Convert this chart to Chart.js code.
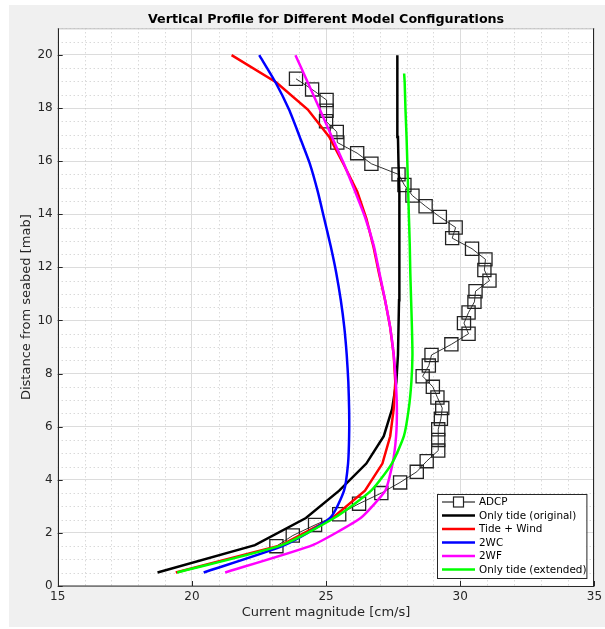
<!DOCTYPE html>
<html>
<head>
<meta charset="utf-8">
<script src="https://cdn.jsdelivr.net/npm/chart.js@4.4.0/dist/chart.umd.min.js"></script>
<style>
html,body{margin:0;padding:0;background:#fff;}
#wrap{width:605px;height:629px;}
</style>
</head>
<body>
<div id="wrap"><canvas id="c" width="605" height="629"></canvas></div>
<script>
// ---- data ----
const titleText = "Vertical Profile for Different Model Configurations";
const xLabel = "Current magnitude [cm/s]";
const yLabel = "Distance from seabed [mab]";

const adcpHeights = [1.5,1.9,2.3,2.7,3.1,3.5,3.9,4.3,4.7,5.1,5.5,5.9,6.3,6.7,7.1,7.5,7.9,8.3,8.7,9.1,9.5,9.9,10.3,10.7,11.1,11.5,11.9,12.3,12.7,13.1,13.5,13.9,14.3,14.7,15.1,15.5,15.9,16.3,16.7,17.1,17.5,17.9,18.3,18.7,19.1];
const adcpSpeed = [23.15,23.76,24.59,25.49,26.23,27.06,27.76,28.38,28.75,29.18,29.18,29.18,29.28,29.33,29.15,28.98,28.60,28.83,28.93,29.67,30.31,30.14,30.31,30.53,30.57,31.09,30.90,30.94,30.44,29.70,29.83,29.24,28.71,28.22,27.92,27.70,26.69,26.16,25.42,25.40,25.00,25.02,25.02,24.48,23.88];

const modelHeights = [0.51,1.54,2.56,3.59,4.61,5.64,6.66,7.69,8.71,9.74,10.76,11.79,12.81,13.84,14.86,15.89,16.91,17.94,18.96,19.99];
const extendedHeights = [0.51,1.54,2.56,3.59,4.61,5.64,6.66,7.69,8.71,9.74,10.76,11.79,12.81,13.84,14.86,15.89,16.91,17.94,18.96,19.30];

const onlyTideOriginal = [18.72,22.35,24.25,25.49,26.50,27.15,27.46,27.62,27.68,27.70,27.72,27.74,27.74,27.73,27.72,27.70,27.68,27.66,27.65,27.66];
const tideWind = [19.40,23.33,25.24,26.45,27.10,27.39,27.52,27.58,27.52,27.39,27.20,26.97,26.76,26.50,26.16,25.65,25.12,24.32,23.15,21.48];
const twoWC = [20.44,23.45,25.15,25.67,25.82,25.86,25.86,25.83,25.77,25.68,25.55,25.38,25.17,24.93,24.69,24.40,24.02,23.62,23.12,22.51];
const twoWF = [21.24,24.50,26.29,27.21,27.48,27.61,27.64,27.60,27.52,27.39,27.20,26.99,26.78,26.47,26.08,25.67,25.22,24.77,24.32,23.86];
const onlyTideExtended = [19.45,23.35,25.30,26.68,27.45,27.90,28.08,28.18,28.22,28.20,28.17,28.14,28.12,28.09,28.06,28.03,28.00,27.96,27.93,27.91];

const xTicksMajor = [15,20,25,30,35];
const yTicksMajor = [0,2,4,6,8,10,12,14,16,18,20];

const seriesNames = ["ADCP","Only tide (original)","Tide + Wind","2WC","2WF","Only tide (extended)"];
const seriesColors = ["#000000","#000000","#ff0000","#0000ff","#ff00ff","#00ff00"];

// ---- build ----
function pts(xs, ys){ return xs.map((v,i)=>({x:v, y:ys[i]})); }

const FONT = "'DejaVu Sans', sans-serif";
const TXT = "#262626";
const LW = 2.5;

const datasets = [
  {label:seriesNames[0], data:pts(adcpSpeed, adcpHeights), showLine:true, borderColor:"#000", borderWidth:0.8,
   pointStyle:'rect', pointRadius:9.3, pointBorderWidth:1.3, pointBorderColor:"#222", pointBackgroundColor:"rgba(0,0,0,0)", order:6},
  {label:seriesNames[1], data:pts(onlyTideOriginal, modelHeights), showLine:true, borderColor:seriesColors[1], borderWidth:LW, pointRadius:0, order:5},
  {label:seriesNames[2], data:pts(tideWind, modelHeights), showLine:true, borderColor:seriesColors[2], borderWidth:LW, pointRadius:0, order:4},
  {label:seriesNames[3], data:pts(twoWC, modelHeights), showLine:true, borderColor:seriesColors[3], borderWidth:LW, pointRadius:0, order:3, tension:0.2},
  {label:seriesNames[4], data:pts(twoWF, modelHeights), showLine:true, borderColor:seriesColors[4], borderWidth:LW, pointRadius:0, order:2, tension:0.15},
  {label:seriesNames[5], data:pts(onlyTideExtended, extendedHeights), showLine:true, borderColor:seriesColors[5], borderWidth:LW, pointRadius:0, order:1, tension:0.2}
];

const bgPlugin = {
  id:'bg',
  beforeDraw(chart){
    const {ctx, chartArea:a} = chart;
    ctx.save();
    ctx.fillStyle = "#fff";
    ctx.fillRect(0,0,chart.width,chart.height);
    ctx.fillStyle = "#f0f0f0";
    ctx.fillRect(9,5,chart.width-9,chart.height-7);
    ctx.fillStyle = "#fff";
    ctx.fillRect(a.left,a.top,a.right-a.left,a.bottom-a.top);
    ctx.restore();
  }
};

const minorGridPlugin = {
  id:'minorGrid',
  beforeDatasetsDraw(chart){
    const {ctx, chartArea:a, scales:{x,y}} = chart;
    ctx.save();
    ctx.strokeStyle = "#c8c8c8";
    ctx.lineWidth = 1;
    ctx.setLineDash([1,3]);
    for (let v = x.min; v <= x.max; v += 1){
      if (v % 5 === 0) continue;
      const px = Math.round(x.getPixelForValue(v)) + 0.5;
      ctx.beginPath(); ctx.moveTo(px,a.top); ctx.lineTo(px,a.bottom); ctx.stroke();
    }
    for (let v = y.min; v <= y.max + 1e-9; v += 0.5){
      if (Math.abs(v % 2) < 1e-9) continue;
      const py = Math.round(y.getPixelForValue(v)) + 0.5;
      ctx.beginPath(); ctx.moveTo(a.left,py); ctx.lineTo(a.right,py); ctx.stroke();
    }
    ctx.restore();
  }
};

const framePlugin = {
  id:'frame',
  afterDatasetsDraw(chart){
    const {ctx, chartArea:a, scales:{x,y}} = chart;
    ctx.save();
    ctx.lineWidth = 1;
    ctx.strokeStyle = "#bdbdbd";
    ctx.beginPath(); ctx.moveTo(a.left, a.top+0.5); ctx.lineTo(a.right, a.top+0.5); ctx.stroke();
    ctx.strokeStyle = "#262626";
    ctx.beginPath();
    ctx.moveTo(Math.round(a.left)+0.5, a.top); ctx.lineTo(Math.round(a.left)+0.5, a.bottom);
    ctx.lineTo(a.right, Math.round(a.bottom)+0.5);
    ctx.moveTo(Math.round(a.right)-0.5, a.top); ctx.lineTo(Math.round(a.right)-0.5, a.bottom);
    ctx.stroke();
    ctx.beginPath();
    xTicksMajor.forEach(v=>{ const px=Math.round(x.getPixelForValue(v))+0.5; ctx.moveTo(px,a.bottom); ctx.lineTo(px,a.bottom-5); });
    yTicksMajor.forEach(v=>{ const py=Math.round(y.getPixelForValue(v))+0.5; ctx.moveTo(a.left,py); ctx.lineTo(a.left+5,py); });
    ctx.stroke();
    ctx.restore();
  }
};

const legendPlugin = {
  id:'boxLegend',
  afterDraw(chart){
    const {ctx, chartArea:a} = chart;
    const ds = chart.data.datasets;
    const right = a.right - 8, bottom = a.bottom - 8;
    const left = 437, top = bottom - 84;
    ctx.save();
    ctx.fillStyle = "#fff";
    ctx.fillRect(left, top, right-left, bottom-top);
    ctx.strokeStyle = "#262626"; ctx.lineWidth = 1;
    ctx.strokeRect(left+0.5, top+0.5, right-left, bottom-top);
    ctx.font = "10.4px " + FONT;
    ctx.textBaseline = "middle";
    ds.forEach((d,i)=>{
      const yy = top + 8 + i*13.5;
      ctx.strokeStyle = d.borderColor;
      ctx.lineWidth = i===0 ? 1 : LW;
      ctx.beginPath(); ctx.moveTo(left+5, yy); ctx.lineTo(left+38, yy); ctx.stroke();
      if (i===0){
        ctx.fillStyle = "#fff";
        ctx.fillRect(left+16.5, yy-5, 10, 10);
        ctx.strokeStyle = "#222"; ctx.lineWidth = 1.2;
        ctx.strokeRect(left+16.5, yy-5, 10, 10);
      }
      ctx.fillStyle = "#000";
      ctx.fillText(d.label, left+42, yy+0.5);
    });
    ctx.restore();
  }
};

new Chart(document.getElementById('c'), {
  type:'scatter',
  data:{datasets},
  plugins:[bgPlugin, minorGridPlugin, framePlugin, legendPlugin],
  options:{
    responsive:false,
    animation:false,
    devicePixelRatio:1,
    layout:{padding:{left:0,right:5.7,top:0,bottom:0}},
    plugins:{
      legend:{display:false},
      tooltip:{enabled:false},
      title:{display:true, text:titleText, fullSize:false, color:"#000",
        font:{family:FONT, size:12.7, weight:'bold', lineHeight:1.2}, padding:{top:12.5,bottom:0.6}}
    },
    scales:{
      x:{type:'linear', min:15, max:35,
        afterBuildTicks(s){ s.ticks = xTicksMajor.map(v=>({value:v})); },
        ticks:{color:TXT, font:{family:FONT,size:12}, padding:4, maxRotation:0, autoSkip:false},
        grid:{color:"#dcdcdc", lineWidth:1, drawTicks:false},
        border:{display:false},
        title:{display:true, text:xLabel, color:TXT, font:{family:FONT,size:13,lineHeight:1.2}, padding:{top:0,bottom:9}},
        afterFit(s){ s.height = 43; s.paddingLeft = 0; s.paddingRight = 0; }
      },
      y:{type:'linear', min:0, max:21,
        afterBuildTicks(s){ s.ticks = yTicksMajor.map(v=>({value:v})); },
        ticks:{color:TXT, font:{family:FONT,size:12}, padding:5, autoSkip:false},
        grid:{color:"#dcdcdc", lineWidth:1, drawTicks:false},
        border:{display:false},
        title:{display:true, text:yLabel, color:TXT, font:{family:FONT,size:13,lineHeight:1.2}, padding:{top:19,bottom:0}},
        afterFit(s){ s.width = 57.7; s.paddingTop = 0; s.paddingBottom = 0; }
      }
    }
  }
});
</script>
</body>
</html>
